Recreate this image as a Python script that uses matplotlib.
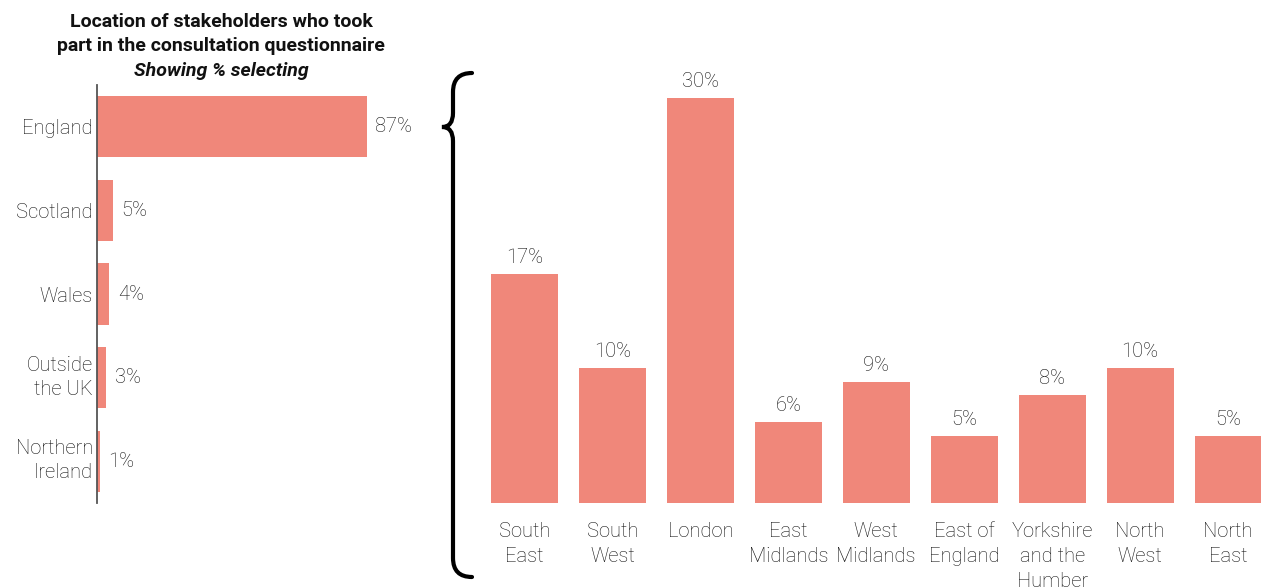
import matplotlib.pyplot as plt
from matplotlib.path import Path
from matplotlib.patches import PathPatch
from matplotlib.transforms import ScaledTranslation
from matplotlib import rcParams

rcParams['font.family'] = ['Roboto', 'DejaVu Sans']

nations = ['England', 'Scotland', 'Wales', 'Outside\nthe UK', 'Northern\nIreland']
nation_pct = [87, 5, 4, 3, 1]

regions = ['South\nEast', 'South\nWest', 'London', 'East\nMidlands', 'West\nMidlands',
           'East of\nEngland', 'Yorkshire\nand the\nHumber', 'North\nWest', 'North\nEast']
region_pct = [17, 10, 30, 6, 9, 5, 8, 10, 5]

bar_col = '#f0877a'
txt_col = '#111111'
W, H = 1261, 588

fig = plt.figure(figsize=(W / 100, H / 100), dpi=100)

def box(x0, y0, x1, y1):
    # pixel box (top-left origin) -> figure fraction rect
    return [x0 / W, 1 - y1 / H, (x1 - x0) / W, (y1 - y0) / H]

# left: nations
ax1 = fig.add_axes(box(97, 85, 420, 503))
ax1.barh(range(len(nations)), nation_pct, height=0.73, color=bar_col)
ax1.set_ylim(len(nations) - 0.5, -0.5)
ax1.set_xlim(0, 323 / 3.103)
ax1.set_yticks(range(len(nations)))
ax1.set_yticklabels(nations, fontsize=14.5, color=txt_col, linespacing=1.35,
                    fontweight='light')
ax1.tick_params(axis='y', length=0, pad=3)
for lab in ax1.get_yticklabels():
    if '\n' in lab.get_text():
        lab.set_transform(lab.get_transform() + ScaledTranslation(0, 5 / 100, fig.dpi_scale_trans))
ax1.set_xticks([])
for s in ['top', 'right', 'bottom']:
    ax1.spines[s].set_visible(False)
ax1.spines['left'].set_color('#555555')
ax1.spines['left'].set_linewidth(1.3)
for i, v in enumerate(nation_pct):
    ax1.annotate(f'{v}%', (v, i), xytext=(6, 0), textcoords='offset points',
                 va='center', ha='left', fontsize=14.5, color=txt_col, fontweight='light')

fig.text(221 / W, 1 - 13 / H,
         'Location of stakeholders who took\npart in the consultation questionnaire',
         ha='center', va='top', fontsize=14, fontweight='bold', color='#111111',
         linespacing=1.45)
fig.text(221 / W, 1 - 62 / H, 'Showing % selecting', ha='center', va='top',
         fontsize=14, fontweight='bold', fontstyle='italic', color='#111111')

# right: English regions
ax2 = fig.add_axes(box(480.5, 60, 1272, 503))
ax2.bar(range(len(regions)), region_pct, width=0.76, color=bar_col)
ax2.set_xlim(-0.5, len(regions) - 0.5)
ax2.set_ylim(0, 443 / 13.5)
ax2.set_xticks(range(len(regions)))
ax2.set_xticklabels(regions, fontsize=14.5, color=txt_col, linespacing=1.4,
                    fontweight='light')
ax2.tick_params(axis='x', length=0, pad=14)
ax2.set_yticks([])
for s in ax2.spines.values():
    s.set_visible(False)
for i, v in enumerate(region_pct):
    ax2.annotate(f'{v}%', (i, v), xytext=(0, 5), textcoords='offset points',
                 va='bottom', ha='center', fontsize=14.5, color=txt_col, fontweight='light')

# brace linking England to the regions
pts = [(472, 73), (453, 73), (453, 92), (453, 113), (453, 127), (442, 127),
       (453, 127), (453, 141), (453, 558), (453, 577), (472, 577)]
codes = [Path.MOVETO, Path.CURVE3, Path.CURVE3, Path.LINETO, Path.CURVE3, Path.CURVE3,
         Path.CURVE3, Path.CURVE3, Path.LINETO, Path.CURVE3, Path.CURVE3]
brace = Path([(x / W, 1 - y / H) for x, y in pts], codes)
fig.patches.append(PathPatch(brace, transform=fig.transFigure, fill=False,
                             lw=3, color='black', capstyle='round'))

fig.savefig('out.png', dpi=100)
